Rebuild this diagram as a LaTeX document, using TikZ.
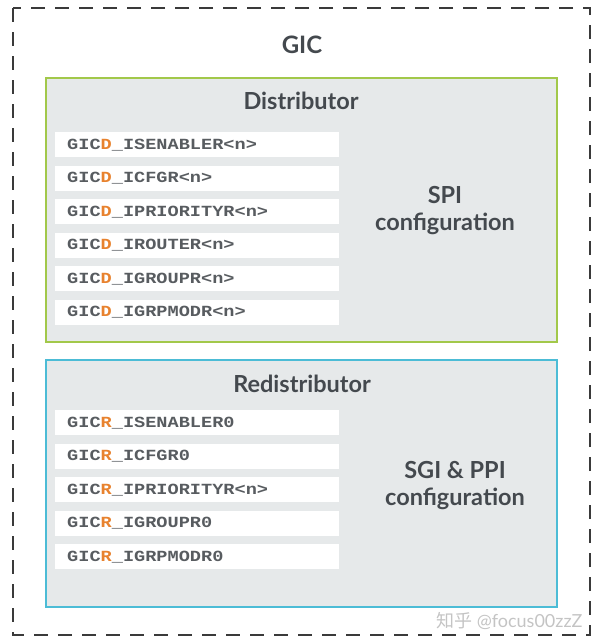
\documentclass[tikz,border=0pt]{standalone}
\usepackage{fontspec}
\setmainfont{Lato}
\newfontfamily\regfont{Liberation Mono}[FakeStretch=1.2]
\newfontfamily\cjkfont{Noto Sans CJK SC}
\definecolor{txtgray}{HTML}{44494E}
\definecolor{reggray}{HTML}{585C60}
\definecolor{regorange}{HTML}{E8822E}
\definecolor{boxfill}{HTML}{E6E9EA}
\definecolor{distgreen}{HTML}{A2C84A}
\definecolor{redcyan}{HTML}{4CBCD6}
\definecolor{dashgray}{HTML}{3A3A3A}
\definecolor{wmgray}{HTML}{C4C4C4}
\tikzset{
  regbox/.style={fill=white, minimum width=284pt, minimum height=25pt, inner ysep=0pt, inner xsep=12pt,
    text width=260pt, align=left, anchor=north west, font=\regfont\bfseries\fontsize{15.5}{18}\selectfont, text=reggray},
  heading/.style={font=\bfseries\fontsize{23.5}{27}\selectfont, text=txtgray},
  sidelabel/.style={font=\bfseries\fontsize{23.5}{27}\selectfont, text=txtgray, align=center},
}
\newcommand{\rD}{\textcolor{regorange}{D}}
\newcommand{\rR}{\textcolor{regorange}{R}}
\begin{document}
\begin{tikzpicture}[x=1pt,y=-1pt]
\useasboundingbox (0,0) rectangle (600,641);
% outer GIC box
\draw[dashgray, line width=2.6pt, dash pattern=on 14pt off 10pt] (13,8) rectangle (590,635);
\node[font=\bfseries\fontsize{24}{28}\selectfont, text=txtgray] (gic) at (302,45) {GIC};
% Distributor
\draw[distgreen, fill=boxfill, line width=2.4pt] (46,78) rectangle (557,342);
\node[heading] (dist) at (301,101) {Distributor};
\node[regbox] (d1) at (55,132) {GIC\rD\_ISENABLER<n>};
\node[regbox] (d2) at (55,165.5) {GIC\rD\_ICFGR<n>};
\node[regbox] (d3) at (55,199) {GIC\rD\_IPRIORITYR<n>};
\node[regbox] (d4) at (55,232.5) {GIC\rD\_IROUTER<n>};
\node[regbox] (d5) at (55,266) {GIC\rD\_IGROUPR<n>};
\node[regbox] (d6) at (55,299.5) {GIC\rD\_IGRPMODR<n>};
\node[sidelabel] (spi) at (445,211) {SPI\\configuration};
% Redistributor
\draw[redcyan, fill=boxfill, line width=2.4pt] (46,360) rectangle (557,607);
\node[heading] (redist) at (302,384) {Redistributor};
\node[regbox] (r1) at (55,410) {GIC\rR\_ISENABLER0};
\node[regbox] (r2) at (55,443.5) {GIC\rR\_ICFGR0};
\node[regbox] (r3) at (55,477) {GIC\rR\_IPRIORITYR<n>};
\node[regbox] (r4) at (55,510.5) {GIC\rR\_IGROUPR0};
\node[regbox] (r5) at (55,544) {GIC\rR\_IGRPMODR0};
\node[sidelabel] (sgi) at (455,486) {SGI \& PPI\\configuration};
% watermark
\node[anchor=east, text=wmgray, font=\fontsize{18}{21}\selectfont] (wm) at (586,621) {{\cjkfont 知乎} @focus00zzZ};
\end{tikzpicture}
\end{document}
